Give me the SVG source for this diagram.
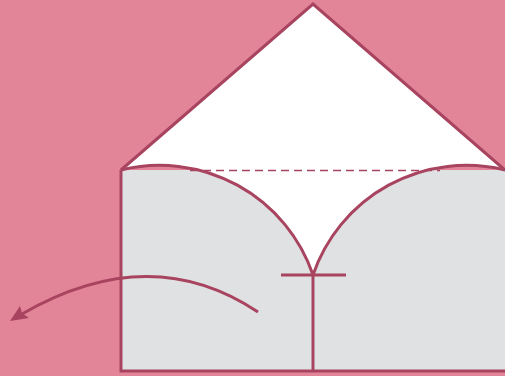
<svg xmlns="http://www.w3.org/2000/svg" width="505" height="376" viewBox="0 0 505 376">
<style>
.ln{fill:none;stroke:#a8445f;stroke-width:3;stroke-linejoin:miter}
</style>
<rect width="505" height="376" fill="#e38599"/>
<g id="envelope">
<rect x="121" y="170" width="384" height="201" fill="#e0e1e3"/>
<path d="M121,170 L313,4 L505,170 A162,162 0 0,0 313,275 A162,162 0 0,0 121,170 Z" fill="#ffffff"/>
<path class="ln" d="M121,170 L313,4 L505,170"/>
<path class="ln" d="M121,170 A162,162 0 0,1 313,275 A162,162 0 0,1 505,170"/>
<path d="M121,170 V371 H505" class="ln"/>
<line x1="190" y1="170.5" x2="440" y2="170.5" stroke="#a8445f" stroke-width="1.3" stroke-dasharray="8,5"/>
<line x1="281" y1="275" x2="346" y2="275" stroke="#a8445f" stroke-width="3"/>
<line x1="313" y1="275" x2="313" y2="371" stroke="#a8445f" stroke-width="3"/>
</g>
<g id="connectors">
<path d="M258,312 Q150,240 22,314" fill="none" stroke="#a8445f" stroke-width="3"/>
<path d="M10,321 L20,306 L22,313 L29,318 Z" fill="#a8445f"/>
</g>
</svg>
